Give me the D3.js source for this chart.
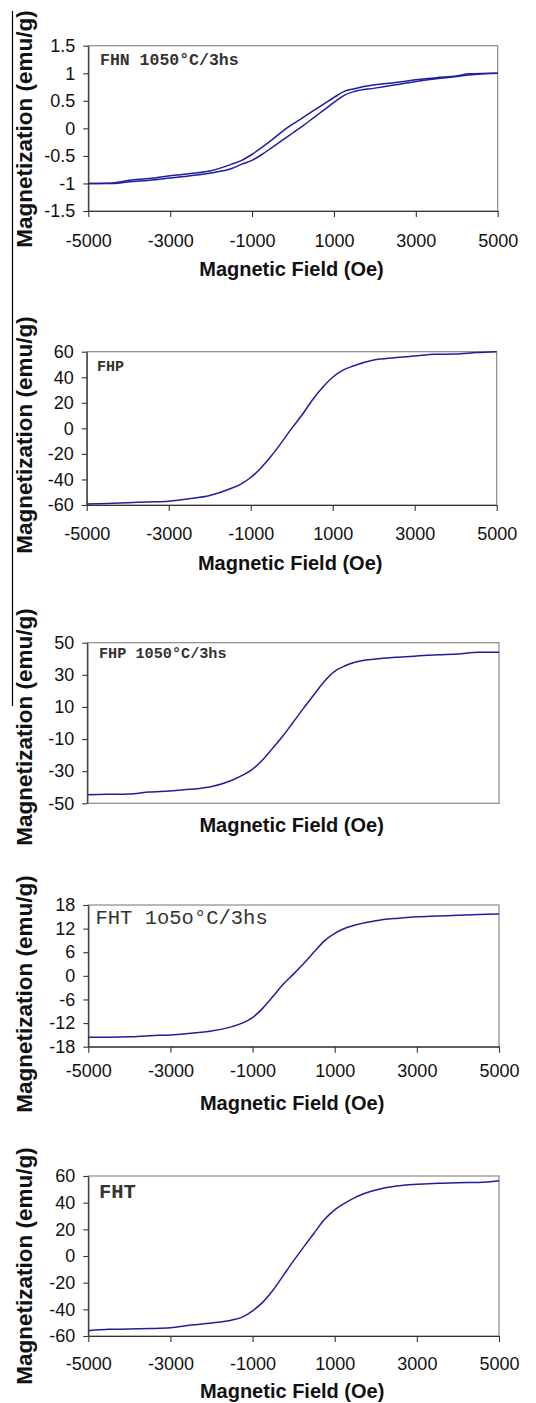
<!DOCTYPE html>
<html>
<head>
<meta charset="utf-8">
<script src="https://cdn.jsdelivr.net/npm/d3@7"></script>
<style>
  html, body { margin: 0; padding: 0; background: #fff; }
  svg { display: block; }
</style>
</head>
<body>
<svg id="chart" width="536" height="1403"></svg>
<script>
// ---------------- DATA ----------------
const xTicks = [-5000, -3000, -1000, 1000, 3000, 5000];

// Panel 1: FHN 1050°C/3hs (hysteresis loop, two branches)
const fieldFHN = [-5000,-4400,-4000,-3500,-3000,-2500,-2000,-1500,-1250,-1000,-750,-500,-250,0,250,500,750,1000,1250,1500,2000,2500,3000,3500,4000,4300,5000];
const fhnUpper = [-1.00,-0.99,-0.94,-0.91,-0.86,-0.82,-0.77,-0.65,-0.58,-0.47,-0.34,-0.20,-0.05,0.08,0.20,0.32,0.44,0.56,0.67,0.72,0.79,0.83,0.88,0.92,0.95,0.99,1.00];
const fhnLower = [-1.00,-1.00,-0.97,-0.94,-0.90,-0.86,-0.81,-0.73,-0.65,-0.58,-0.47,-0.34,-0.21,-0.08,0.05,0.19,0.33,0.47,0.60,0.67,0.73,0.79,0.85,0.90,0.94,0.97,1.00];
const yTicksFHN = [-1.5, -1, -0.5, 0, 0.5, 1, 1.5];

// Common field grid for panels 2-5
const field = [-5000,-4500,-4000,-3500,-3000,-2500,-2000,-1500,-1250,-1000,-750,-500,-250,0,250,500,750,1000,1250,1500,2000,2500,3000,3500,4000,4500,5000];

// Panel 2: FHP
const fhpM = [-59.3,-58.8,-58.2,-57.6,-57.0,-55.2,-52.6,-47.3,-43.8,-38.5,-31.0,-21.7,-11.2,0,10.4,22,32,40,45.6,48.8,53.5,55.3,56.6,58,58.2,59.3,60];
const yTicksFHP = [-60, -40, -20, 0, 20, 40, 60];

// Panel 3: FHP 1050°C/3hs
const fhp1050M = [-44.6,-44.4,-44.2,-43.0,-42.3,-41.3,-39.7,-35.8,-32.8,-29.0,-23.2,-15.8,-8.1,0.5,9.1,17.4,25.7,32,35.5,37.8,39.8,40.9,41.7,42.5,43,44,44];
const yTicksFHP1050 = [-50, -30, -10, 10, 30, 50];

// Panel 4: FHT 1o5o°C/3hs
const fht1050M = [-15.6,-15.6,-15.5,-15.2,-15.0,-14.6,-14.0,-12.9,-12.0,-10.6,-8.2,-5.2,-2.1,0.5,3.2,6.1,8.9,10.8,12.1,12.9,14.0,14.6,15.0,15.2,15.4,15.6,15.7];
const yTicksFHT1050 = [-18, -12, -6, 0, 6, 12, 18];

// Panel 5: FHT
const fhtM = [-56,-55,-54.8,-54.4,-53.8,-51.8,-50.3,-48,-45.8,-41.1,-34.6,-25.5,-14.5,-3.5,7,17.3,27.3,34.6,39.7,44,49.5,52.5,53.8,54.5,55,55.2,56.5];
const yTicksFHT = [-60, -40, -20, 0, 20, 40, 60];

const xTitle = "Magnetic Field (Oe)";
const yTitle = "Magnetization (emu/g)";

// ---------------- LAYOUT ----------------
const panels = [
  { series: [ {x: fieldFHN, y: fhnUpper}, {x: fieldFHN, y: fhnLower} ],
    yTicks: yTicksFHN, yFmt: d => String(d),
    left: 88.3, right: 497.7, top: 45.7, bottom: 211,
    showX: true, tickLabDy: 36, titleDy: 64.5, yTitleCy: 129,
    label: "FHN 1050°C/3hs", lx: 100, ly: 65, lsize: 16.5, lweight: "bold" },
  { series: [ {x: field, y: fhpM} ],
    yTicks: yTicksFHP, yFmt: d => String(d),
    left: 86.7, right: 496.7, top: 351.7, bottom: 505,
    showX: true, tickLabDy: 35, titleDy: 65, yTitleCy: 435,
    label: "FHP", lx: 97, ly: 370.5, lsize: 15, lweight: "bold" },
  { series: [ {x: field, y: fhp1050M} ],
    yTicks: yTicksFHP1050, yFmt: d => String(d),
    left: 87.3, right: 499, top: 642.7, bottom: 803.3,
    showX: false, tickLabDy: 0, titleDy: 29, yTitleCy: 727,
    label: "FHP 1050°C/3hs", lx: 99, ly: 657.5, lsize: 15.2, lweight: "bold" },
  { series: [ {x: field, y: fht1050M} ],
    yTicks: yTicksFHT1050, yFmt: d => String(d),
    left: 88.3, right: 499, top: 905, bottom: 1046.7,
    showX: true, tickLabDy: 30, titleDy: 63, yTitleCy: 994,
    label: "FHT 1o5o°C/3hs", lx: 95.5, ly: 924, lsize: 20.5, lweight: "normal" },
  { series: [ {x: field, y: fhtM} ],
    yTicks: yTicksFHT, yFmt: d => String(d),
    left: 88.3, right: 499, top: 1176, bottom: 1336,
    showX: true, tickLabDy: 34, titleDy: 62, yTitleCy: 1266,
    label: "FHT", lx: 99, ly: 1198, lsize: 20.5, lweight: "bold" }
];

const svg = d3.select("#chart");
const lineColor = "#1f1f9e";
const sans = "'Liberation Sans', Arial, sans-serif";
const mono = "'Liberation Mono', 'Courier New', monospace";

svg.append("line")
  .attr("x1", 12.5).attr("x2", 12.5).attr("y1", 11).attr("y2", 706)
  .attr("stroke", "#000").attr("stroke-width", 1.2);

panels.forEach(p => {
  const yd = [p.yTicks[0], p.yTicks[p.yTicks.length - 1]];
  const x = d3.scaleLinear().domain([-5000, 5000]).range([p.left, p.right]);
  const y = d3.scaleLinear().domain(yd).range([p.bottom, p.top]);
  const g = svg.append("g");

  g.append("rect")
    .attr("x", p.left).attr("y", p.top)
    .attr("width", p.right - p.left).attr("height", p.bottom - p.top)
    .attr("fill", "none").attr("stroke", "#8a8a8a").attr("stroke-width", 1.2);

  const line = d3.line().x(d => x(d[0])).y(d => y(d[1])).curve(d3.curveMonotoneX);
  p.series.forEach(s => {
    const pts = s.x.map((h, i) => [h, s.y[i]]);
    g.append("path").datum(pts)
      .attr("d", line)
      .attr("fill", "none")
      .attr("stroke", lineColor)
      .attr("stroke-width", 1.5)
      .attr("stroke-linejoin", "round");
  });

  const ya = g.append("g").attr("transform", `translate(${p.left},0)`)
    .call(d3.axisLeft(y).tickValues(p.yTicks).tickFormat(p.yFmt).tickSize(5).tickSizeOuter(0).tickPadding(8));
  ya.select(".domain").attr("stroke", "#333").attr("stroke-width", 1.2);
  ya.selectAll(".tick line").attr("stroke", "#333").attr("stroke-width", 1.1);
  ya.selectAll(".tick text").attr("font-family", sans).attr("font-size", 18).attr("fill", "#111");

  if (p.showX) {
    const xa = g.append("g").attr("transform", `translate(0,${p.bottom})`)
      .call(d3.axisBottom(x).tickValues(xTicks).tickSize(6).tickSizeOuter(0).tickFormat(d => String(d)));
    xa.select(".domain").attr("stroke", "#333").attr("stroke-width", 1.2);
    xa.selectAll(".tick line").attr("stroke", "#333").attr("stroke-width", 1.1);
    xa.selectAll(".tick text")
      .attr("font-family", sans).attr("font-size", 18).attr("fill", "#111")
      .attr("y", p.tickLabDy).attr("dy", 0);
  }

  g.append("text")
    .attr("x", (p.left + p.right) / 2 - 1.5)
    .attr("y", p.bottom + p.titleDy)
    .attr("text-anchor", "middle")
    .attr("font-family", sans).attr("font-weight", "bold").attr("font-size", 20)
    .attr("fill", "#111")
    .text(xTitle);

  g.append("text")
    .attr("transform", `translate(32,${p.yTitleCy}) rotate(-90)`)
    .attr("text-anchor", "middle")
    .attr("font-family", sans).attr("font-weight", "bold").attr("font-size", 22.5)
    .attr("fill", "#111")
    .text(yTitle);

  g.append("text")
    .attr("x", p.lx).attr("y", p.ly)
    .attr("font-family", mono).attr("font-weight", p.lweight).attr("font-size", p.lsize)
    .attr("fill", "#333")
    .text(p.label);
});
</script>
</body>
</html>
